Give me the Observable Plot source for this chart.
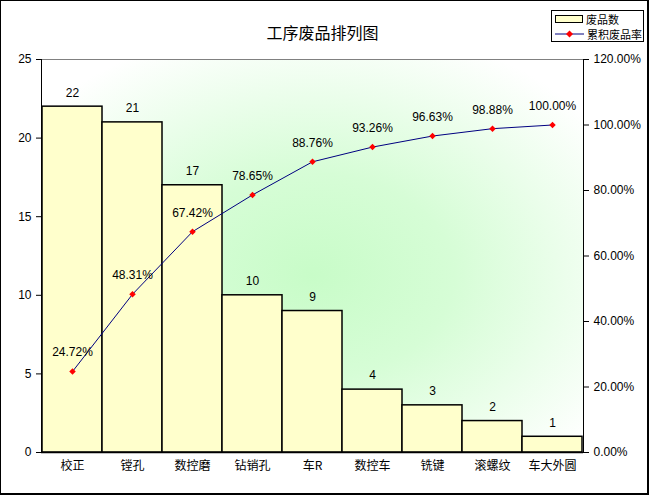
<!DOCTYPE html>
<html><head><meta charset="utf-8">
<script src="https://cdn.jsdelivr.net/npm/d3@7"></script>
<script src="https://cdn.jsdelivr.net/npm/@observablehq/plot@0.6"></script>
<style>
body{margin:0;background:#fff}
#wrap{position:relative;width:649px;height:495px;overflow:hidden;background:#fff;font-family:"Liberation Sans","Noto Sans CJK SC",sans-serif}
#wrap svg.chart{position:absolute;left:0;top:0}
#frame{position:absolute;left:0;top:0;right:0;bottom:0;box-sizing:border-box;border:1px solid #000;border-right-width:2px;border-bottom-width:2px;pointer-events:none}
#title{position:absolute;left:0;top:20px;width:645px;text-align:center;font-size:16px;font-family:"Noto Sans CJK SC",sans-serif;color:#000}
#legend{position:absolute;left:551px;top:10px;width:93px;height:32px;box-sizing:border-box;border:1px solid #000;background:#fff;font-family:"Noto Sans CJK SC",sans-serif;font-size:11px;line-height:14px}
#legend .row{position:absolute;left:3px;white-space:nowrap;display:flex;align-items:center}
#legend .sw{display:inline-block;width:26px;height:6px;border:1px solid #000;background:#FFFFCC;margin-right:3px}
</style>
</head><body>
<div id="wrap"></div>
<script>
const categories = ["校正","镗孔","数控磨","钻销孔","车R","数控车","铣键","滚螺纹","车大外圆"];
const counts = [22,21,17,10,9,4,3,2,1];
const cumPct = [24.72,48.31,67.42,78.65,88.76,93.26,96.63,98.88,100.00];
const leftTicks = [0,5,10,15,20,25];
const rightTicks = [0,20,40,60,80,100,120];
const titleText = "工序废品排列图";
const legendLabels = ["废品数","累积废品率"];

const data = categories.map((c,i)=>({cat:c,count:counts[i],pct:cumPct[i]}));

const common = {
  width:649, height:495,
  marginLeft:41, marginRight:66, marginTop:59, marginBottom:43
};
const styleObj = {fontFamily:'"Liberation Sans","Noto Sans CJK SC",sans-serif', fontSize:"12px", background:"transparent", overflow:"visible", color:"#000"};

const p1 = Plot.plot({
  ...common,
  x:{type:"band", domain:categories, padding:0, axis:null},
  y:{domain:[0,25]},
  style:styleObj,
  marks:[
    Plot.frame({fill:"url(#bg)", stroke:null}),
    Plot.ruleY([25],{stroke:"#808080", strokeWidth:1}),
    Plot.barY(data,{x:"cat", y:"count", fill:"#FFFFCC", stroke:"#000", strokeWidth:1.5}),
    Plot.text(data,{x:"cat", y:"count", text:d=>String(d.count), dy:-14, fontSize:12, fill:"#000"}),
    Plot.ruleY([0],{stroke:"#000", strokeWidth:1.5}),
    Plot.axisY({ticks:leftTicks, tickSize:5, tickPadding:5, fontSize:12, label:null, tickFormat:d=>String(d)}),
    Plot.frame({anchor:"left", stroke:"#000"})
  ]
});
p1.classList.add("chart");
const defs = d3.select(p1).insert("defs",":first-child");
const g = defs.append("radialGradient").attr("id","bg").attr("cx","0.5").attr("cy","0.55").attr("r","0.65");
g.append("stop").attr("offset","0").attr("stop-color","#C8FCC8");
g.append("stop").attr("offset","0.4").attr("stop-color","#D6FDD6");
g.append("stop").attr("offset","1").attr("stop-color","#FFFFFF");

const p2 = Plot.plot({
  ...common,
  x:{type:"band", domain:categories, padding:0, label:null},
  y:{domain:[0,120]},
  style:styleObj,
  marks:[
    Plot.line(data,{x:"cat", y:"pct", stroke:"#000080", strokeWidth:1}),
    Plot.dot(data,{x:"cat", y:"pct", symbol:"square", rotate:45, r:2.6, fill:"#FF0000", stroke:null}),
    Plot.text(data,{x:"cat", y:"pct", text:d=>d.pct.toFixed(2)+"%", dy:-19, fontSize:12, fill:"#000"}),
    Plot.axisY({anchor:"right", ticks:rightTicks, tickFormat:d=>d.toFixed(2)+"%", tickSize:5, tickPadding:5, fontSize:12, label:null}),
    Plot.frame({anchor:"right", stroke:"#000"}),
    Plot.axisX({tickSize:0, tickPadding:9, fontSize:12, label:null, fontFamily:'"Noto Sans CJK SC",sans-serif'})
  ]
});
p2.classList.add("chart");

const wrap = document.getElementById("wrap");
wrap.appendChild(p1);
wrap.appendChild(p2);

const t = document.createElement("div");
t.id = "title"; t.textContent = titleText;
wrap.appendChild(t);

const lg = document.createElement("div");
lg.id = "legend";
lg.innerHTML = `<div class="row" style="top:1px"><span class="sw"></span><span>${legendLabels[0]}</span></div>
<div class="row" style="top:16px"><svg width="29" height="10" style="margin-right:3px"><line x1="0" y1="5" x2="29" y2="5" stroke="#000080" stroke-width="1"/><path d="M14.5,1.5 L18,5 L14.5,8.5 L11,5 Z" fill="#FF0000"/></svg><span>${legendLabels[1]}</span></div>`;
wrap.appendChild(lg);

const fr = document.createElement("div");
fr.id = "frame";
wrap.appendChild(fr);
</script>
</body></html>
